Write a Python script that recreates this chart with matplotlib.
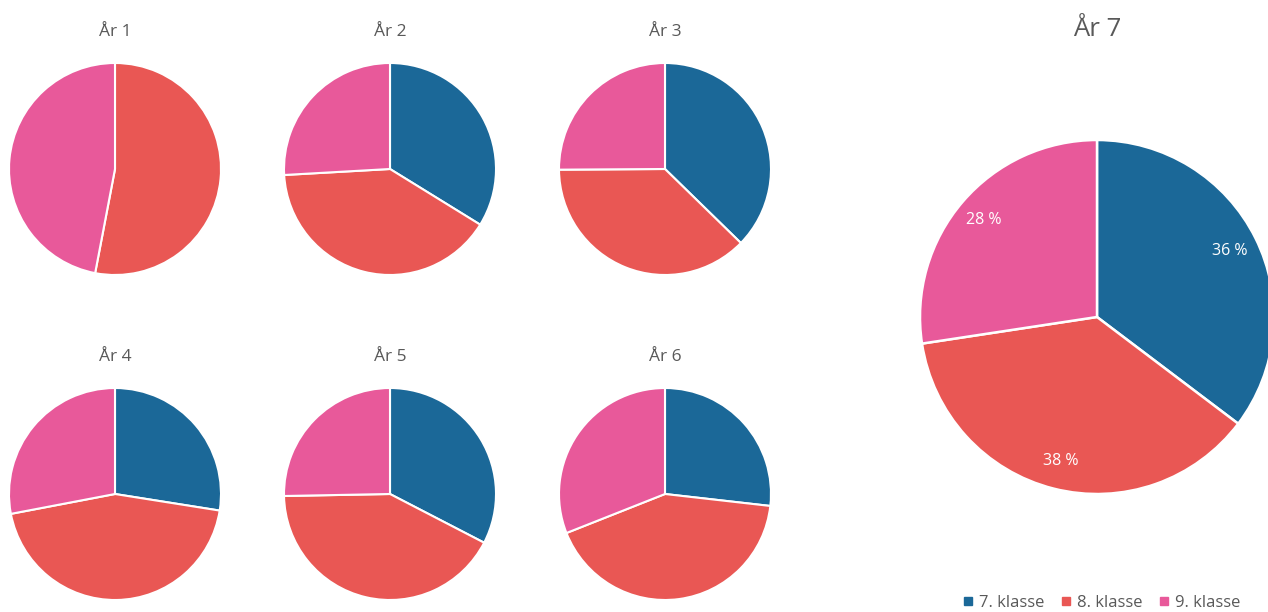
import matplotlib.pyplot as plt
from matplotlib.lines import Line2D

plt.rcParams['font.family'] = ['Open Sans', 'DejaVu Sans']

# share of pupils per grade (7., 8., 9. klasse) for each year
klasser = ['7. klasse', '8. klasse', '9. klasse']
farger = ['#1B6898', '#E95754', '#E8599A']

aar_titler = ['År 1', 'År 2', 'År 3', 'År 4', 'År 5', 'År 6']
aar1 = [0.0, 53.0, 47.0]
aar2 = [33.8, 40.3, 25.9]
aar3 = [37.3, 37.6, 25.1]
aar4 = [27.5, 44.5, 28.0]
aar5 = [32.6, 42.1, 25.3]
aar6 = [26.8, 42.2, 31.0]
aar7 = [35.3, 37.3, 27.4]
aar7_etiketter = ['36 %', '38 %', '28 %']

W, H = 1268, 612
fig = plt.figure(figsize=(W / 100, H / 100), dpi=100)
tekstfarge = '#595959'


def pie_ax(cx, cy, r):
    # axes in pixel coords, cy measured from top
    return fig.add_axes([(cx - r) / W, 1 - (cy + r) / H, 2 * r / W, 2 * r / H])


sma = [aar1, aar2, aar3, aar4, aar5, aar6]
xs = [115, 390, 665]
ys = [169, 494]
r = 106
for i, verdier in enumerate(sma):
    cx = xs[i % 3]
    cy = ys[i // 3]
    ax = pie_ax(cx, cy, r)
    ax.pie(verdier, colors=farger, startangle=90, counterclock=False,
           radius=1, wedgeprops=dict(edgecolor='white', linewidth=1.5))
    ax.set_xlim(-1, 1)
    ax.set_ylim(-1, 1)
    ax.set_aspect('equal')
    fig.text(cx / W, 1 - (cy - 137) / H, aar_titler[i], ha='center', va='center',
             fontsize=12.5, color=tekstfarge)

# big pie
R = 177
ax = pie_ax(1097, 317, R)
wedges, texts, autotexts = ax.pie(aar7, colors=farger, startangle=90, counterclock=False,
                                  radius=1, autopct='%.0f', pctdistance=0.84,
                                  wedgeprops=dict(edgecolor='white', linewidth=1.8),
                                  textprops=dict(color='white', fontsize=11.5))
for t, lab in zip(autotexts, aar7_etiketter):
    t.set_text(lab)
ax.set_xlim(-1, 1)
ax.set_ylim(-1, 1)
ax.set_aspect('equal')
fig.text(1097 / W, 1 - 29 / H, 'År 7', ha='center', va='center',
         fontsize=18.5, color=tekstfarge)

handles = [Line2D([], [], marker='s', linestyle='none', markersize=6,
                  markerfacecolor=c, markeredgecolor=c) for c in farger]
fig.legend(handles, klasser, loc='center', bbox_to_anchor=(1100 / W, 1 - 603 / H),
           ncol=3, frameon=False, fontsize=12, handletextpad=0.2,
           columnspacing=0.75, labelcolor=tekstfarge, handlelength=1.0)

fig.savefig('out.png', dpi=100)
